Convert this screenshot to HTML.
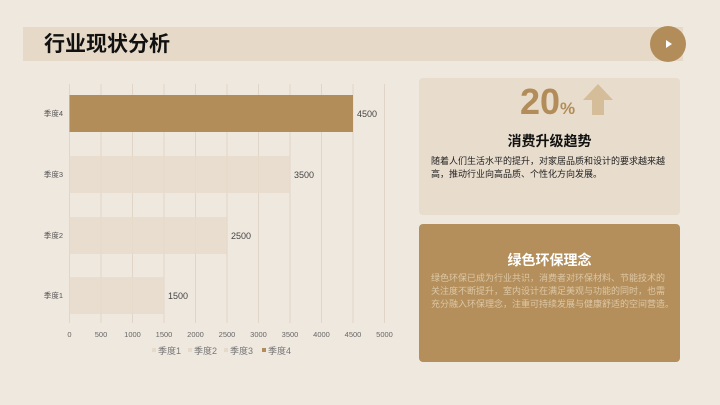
<!DOCTYPE html>
<html><head><meta charset="utf-8"><style>
body{margin:0;width:720px;height:405px;background:#efe8df;overflow:hidden;font-family:"Liberation Sans","Noto Sans CJK SC",sans-serif;position:relative}
.ab{position:absolute}
</style></head><body>
<div class="ab" style="left:23px;top:27px;width:660px;height:34px;background:#e6d9c7"></div>
<div class="ab" style="left:44px;top:31px;font-size:21px;font-weight:bold;color:#111;line-height:28px">行业现状分析</div>
<div class="ab" style="left:650px;top:26px;width:36px;height:36px;border-radius:50%;background:#b28d59"></div>
<div class="ab" style="left:666px;top:40px;width:0;height:0;border-left:6px solid #fff;border-top:4px solid transparent;border-bottom:4px solid transparent"></div>

<div class="ab" style="left:419px;top:78px;width:261px;height:137px;background:#e8dccd;border-radius:4px"></div>
<div class="ab" style="left:520px;top:82px;font-size:36px;font-weight:bold;color:#b28d59;line-height:40px">20<span style="font-size:17px">%</span></div>
<svg class="ab" style="left:580px;top:82px" width="36" height="36"><polygon points="18,2 33,18 24,18 24,33 12,33 12,18 3,18" fill="#d6bd99"/></svg>
<div class="ab" style="left:419px;top:131px;width:261px;text-align:center;font-size:14px;font-weight:bold;color:#111;line-height:20px">消费升级趋势</div>
<div class="ab" style="left:431px;top:155px;white-space:nowrap;font-size:9px;color:#222;line-height:13px">随着人们生活水平的提升，对家居品质和设计的要求越来越<br>高，推动行业向高品质、个性化方向发展。</div>

<div class="ab" style="left:419px;top:224px;width:261px;height:138px;background:#b48f5b;border-radius:4px"></div>
<div class="ab" style="left:419px;top:250px;width:261px;text-align:center;font-size:14px;font-weight:bold;color:#fff;line-height:20px">绿色环保理念</div>
<div class="ab" style="left:431px;top:272px;white-space:nowrap;font-size:9px;color:#dcc7a6;line-height:13px">绿色环保已成为行业共识，消费者对环保材料、节能技术的<br>关注度不断提升，室内设计在满足美观与功能的同时，也需<br>充分融入环保理念，注重可持续发展与健康舒适的空间营造。</div>

<svg class="ab" style="left:0;top:0" width="410" height="370" font-family="Liberation Sans,Noto Sans CJK SC,sans-serif">
<g stroke="#e0d5c6" stroke-width="1">
<line x1="69.5" y1="84" x2="69.5" y2="323"/><line x1="101" y1="84" x2="101" y2="323"/><line x1="132.5" y1="84" x2="132.5" y2="323"/><line x1="164" y1="84" x2="164" y2="323"/><line x1="195.5" y1="84" x2="195.5" y2="323"/><line x1="227" y1="84" x2="227" y2="323"/><line x1="258.5" y1="84" x2="258.5" y2="323"/><line x1="290" y1="84" x2="290" y2="323"/><line x1="321.5" y1="84" x2="321.5" y2="323"/><line x1="353" y1="84" x2="353" y2="323"/><line x1="384.5" y1="84" x2="384.5" y2="323"/>
</g>
<rect x="69.5" y="95" width="283.5" height="37" fill="#b28d59"/>
<rect x="69.5" y="156" width="220.5" height="37" fill="#e6dacb" opacity="0.85"/>
<rect x="69.5" y="217" width="157.5" height="37" fill="#e6dacb" opacity="0.85"/>
<rect x="69.5" y="277" width="94.5" height="37" fill="#e6dacb" opacity="0.85"/>
<g font-size="9" fill="#444">
<text x="357" y="117">4500</text><text x="294" y="178">3500</text><text x="231" y="239">2500</text><text x="168" y="299">1500</text>
</g>
<g font-size="7.5" fill="#555" text-anchor="end">
<text x="63" y="116">季度4</text><text x="63" y="177">季度3</text><text x="63" y="238">季度2</text><text x="63" y="298">季度1</text>
</g>
<g font-size="7.5" fill="#666" text-anchor="middle">
<text x="69.5" y="337">0</text><text x="101" y="337">500</text><text x="132.5" y="337">1000</text><text x="164" y="337">1500</text><text x="195.5" y="337">2000</text><text x="227" y="337">2500</text><text x="258.5" y="337">3000</text><text x="290" y="337">3500</text><text x="321.5" y="337">4000</text><text x="353" y="337">4500</text><text x="384.5" y="337">5000</text>
</g>
<g font-size="9" fill="#777">
<rect x="152" y="348" width="4" height="4" fill="#e6dacb"/><text x="158" y="354">季度1</text>
<rect x="188" y="348" width="4" height="4" fill="#e6dacb"/><text x="194" y="354">季度2</text>
<rect x="224" y="348" width="4" height="4" fill="#e6dacb"/><text x="230" y="354">季度3</text>
<rect x="262" y="348" width="4" height="4" fill="#b28d59"/><text x="268" y="354">季度4</text>
</g>
</svg>
</body></html>
